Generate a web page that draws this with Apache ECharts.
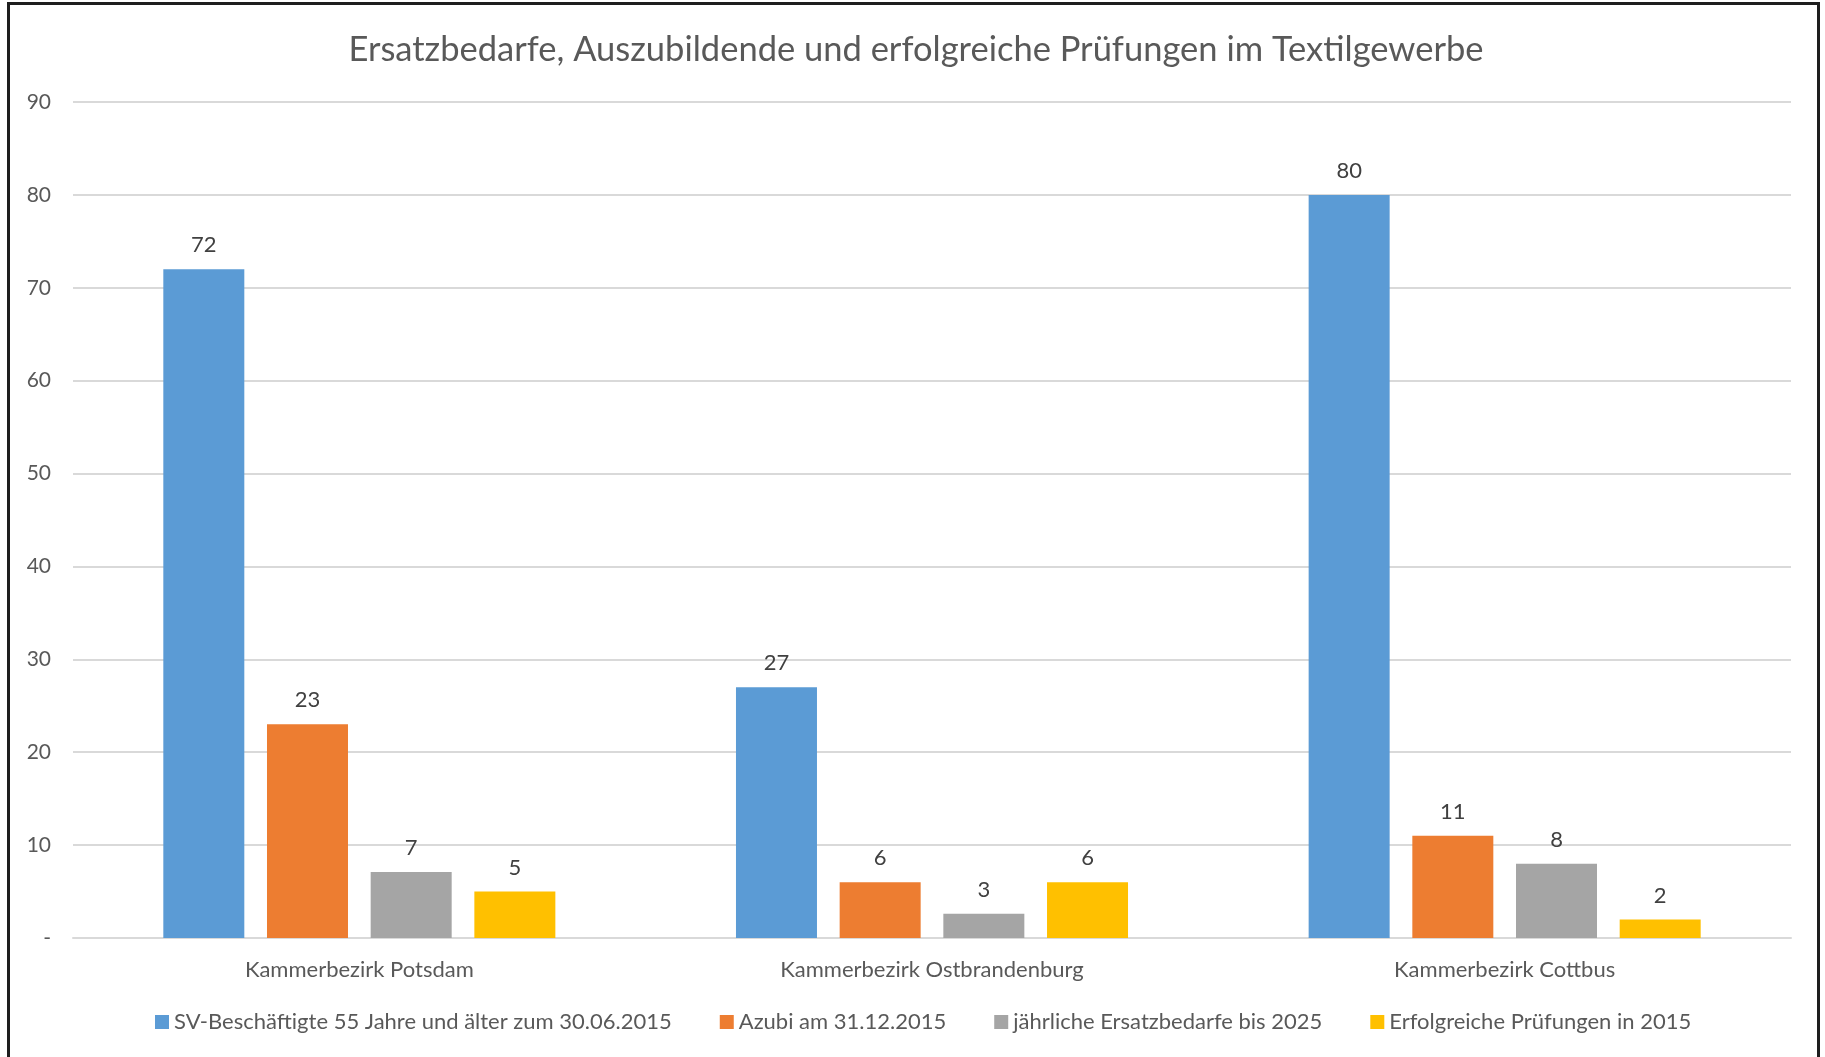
<!DOCTYPE html>
<html>
<head>
<meta charset="utf-8">
<script src="https://cdn.jsdelivr.net/npm/echarts@6/dist/echarts.min.js"></script>
<style>
  html, body { margin: 0; padding: 0; background: #fff; }
  #chart { width: 1825px; height: 1057px; }
  #frame {
    position: absolute; left: 7px; top: 2px; width: 1807px; height: 1100px;
    border: 3px solid #1e1e1e; border-bottom: none; pointer-events: none;
  }
</style>
</head>
<body>
<div id="chart"></div>
<div id="frame"></div>
<script>
const title = 'Ersatzbedarfe, Auszubildende und erfolgreiche Prüfungen im Textilgewerbe'
const categories = ['Kammerbezirk Potsdam', 'Kammerbezirk Ostbrandenburg', 'Kammerbezirk Cottbus']
const seriesNames = [
  'SV-Beschäftigte 55 Jahre und älter zum 30.06.2015',
  'Azubi am 31.12.2015',
  'jährliche Ersatzbedarfe bis 2025',
  'Erfolgreiche Prüfungen in 2015'
]
const beschaeftigte = [72, 27, 80]
const azubi = [23, 6, 11]
const ersatzbedarf = [7.1, 2.6, 8.0]
const pruefungen = [5, 6, 2]
const colors = ['#5b9bd5', '#ed7d31', '#a5a5a5', '#ffc000']

const font = 'Lato'
const chart = echarts.init(document.getElementById('chart'))

const values = [beschaeftigte, azubi, ersatzbedarf, pruefungen]
const series = values.map((d, i) => ({
  type: 'bar',
  name: seriesNames[i],
  data: d,
  barWidth: 81,
  barGap: '28%',
  itemStyle: { color: colors[i] },
  label: {
    show: true,
    position: 'top',
    distance: 13,
    color: '#404040',
    fontFamily: font,
    fontSize: 22,
    formatter: p => Math.round(p.value)
  }
}))

chart.setOption({
  animation: false,
  textStyle: { fontFamily: font },
  title: {
    text: title,
    left: 911,
    textAlign: 'center',
    top: 27,
    textStyle: { color: '#595959', fontSize: 34.5, fontWeight: 'normal', fontFamily: font }
  },
  legend: {
    data: seriesNames,
    bottom: 19,
    left: 150,
    itemWidth: 14,
    itemHeight: 14,
    itemGap: 48,
    icon: 'rect',
    textStyle: { color: '#595959', fontSize: 22, fontFamily: font }
  },
  grid: { left: 73, right: 34, top: 102, bottom: 119, containLabel: false },
  xAxis: {
    type: 'category',
    data: categories,
    axisTick: { show: false },
    axisLine: { lineStyle: { color: '#d9d9d9', width: 2 } },
    axisLabel: { color: '#595959', fontSize: 22, fontFamily: font, margin: 21 }
  },
  yAxis: {
    type: 'value',
    min: 0,
    max: 90,
    interval: 10,
    axisLine: { show: false },
    axisTick: { show: false },
    splitLine: { lineStyle: { color: '#d9d9d9', width: 2 } },
    axisLabel: {
      color: '#595959', fontSize: 21, fontFamily: font, margin: 22,
      formatter: v => v === 0 ? '-' : v
    }
  },
  series
})
</script>
</body>
</html>
